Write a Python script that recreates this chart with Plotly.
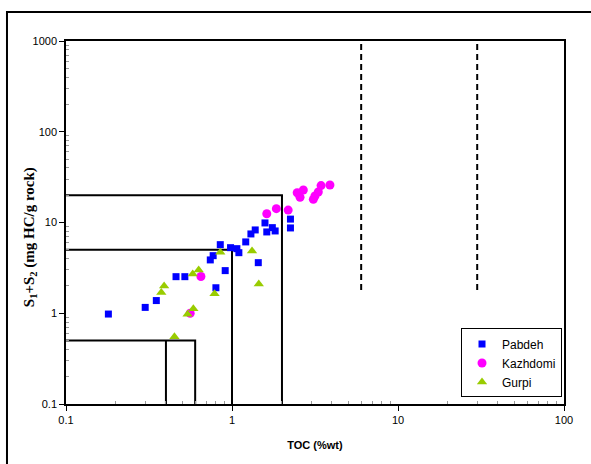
import plotly.graph_objects as go

# Pabdeh
pab_toc = [0.18, 0.30, 0.35, 0.46, 0.52, 0.74, 0.77, 0.80, 0.85, 0.91, 0.98, 1.07,
           1.10, 1.21, 1.30, 1.38, 1.44, 1.58, 1.62, 1.75, 1.82, 2.25, 2.25]
pab_s = [0.98, 1.16, 1.38, 2.53, 2.53, 3.87, 4.31, 1.91, 5.70, 2.95, 5.28, 5.15,
         4.65, 6.11, 7.48, 8.28, 3.61, 9.89, 7.87, 8.78, 8.07, 10.9, 8.71]
# Kazhdomi
kaz_toc = [0.65, 0.56, 1.62, 1.85, 2.18, 2.47, 2.69, 2.57, 3.09, 3.16, 3.31, 3.44, 3.89]
kaz_s = [2.54, 1.0, 12.5, 14.2, 13.7, 21.3, 22.8, 19.0, 18.0, 19.6, 21.7, 25.5, 25.9]
# Gurpi
gur_toc = [0.39, 0.375, 0.58, 0.63, 0.85, 0.785, 0.585, 0.54, 0.45, 1.32, 1.45]
gur_s = [2.0, 1.69, 2.71, 3.0, 4.70, 1.64, 1.12, 0.975, 0.55, 4.86, 2.10]

# Classification box limits (TOC, S1+S2)
box_toc = [2, 1, 0.6]
box_s = [20, 5, 0.5]
poor_inner_toc = 0.4
dash_toc = [6, 30]
dash_s_range = [1.8, 1000]

x_ticks = [0.1, 1, 10, 100]
x_tick_text = ["0.1", "1", "10", "100"]
y_ticks = [0.1, 1, 10, 100, 1000]
y_tick_text = ["0.1", "1", "10", "100", "1000"]

x_minor = [d * m for d in x_ticks[:-1] for m in range(2, 10)]
y_minor = [d * m for d in y_ticks[:-1] for m in range(2, 10)]

fig = go.Figure()

line_style = dict(color="black", width=2)
for t, s in zip(box_toc, box_s):
    fig.add_trace(go.Scatter(x=[0.1, t, t], y=[s, s, 0.1], mode="lines",
                             line=line_style, showlegend=False, hoverinfo="skip"))
fig.add_trace(go.Scatter(x=[poor_inner_toc, poor_inner_toc], y=[0.1, box_s[2]], mode="lines",
                         line=line_style, showlegend=False, hoverinfo="skip"))
for t in dash_toc:
    fig.add_trace(go.Scatter(x=[t, t], y=dash_s_range, mode="lines",
                             line=dict(color="black", width=2, dash="6px,4px"),
                             showlegend=False, hoverinfo="skip"))

fig.add_trace(go.Scatter(x=pab_toc, y=pab_s, mode="markers", name="Pabdeh",
                         marker=dict(symbol="square", size=7, color="#0000FF")))
fig.add_trace(go.Scatter(x=kaz_toc, y=kaz_s, mode="markers", name="Kazhdomi",
                         marker=dict(symbol="circle", size=9, color="#FF00FF")))
fig.add_trace(go.Scatter(x=gur_toc, y=gur_s, mode="markers", name="Gurpi",
                         marker=dict(symbol="triangle-up", size=9, color="#99CC00")))

# outer chart border
fig.add_shape(type="rect", xref="paper", yref="paper",
              x0=-0.1185, x1=1.3, y0=-0.4, y1=1.08,
              line=dict(color="black", width=2), fillcolor="rgba(0,0,0,0)", layer="below")

axis_common = dict(
    type="log", showgrid=False, zeroline=False, showline=True, linecolor="black",
    linewidth=1.5, mirror=True, ticks="outside", ticklen=5, tickcolor="black",
    tickfont=dict(family="Liberation Sans, Arial", size=11, color="black"),
)

fig.update_xaxes(**axis_common, range=[-1, 2], tickvals=x_ticks, ticktext=x_tick_text,
                 minor=dict(tickvals=x_minor, ticks="inside", ticklen=3,
                            tickcolor="#999999", showgrid=False),
                 title=dict(text="<b>TOC (%wt)</b>",
                            font=dict(family="Liberation Sans, Arial", size=11, color="black"),
                            standoff=16))
fig.update_yaxes(**axis_common, range=[-1, 3], tickvals=y_ticks, ticktext=y_tick_text,
                 minor=dict(tickvals=y_minor, ticks="inside", ticklen=3,
                            tickcolor="#999999", showgrid=False))

fig.add_annotation(text="<b>S<sub>1</sub>+S<sub>2</sub> (mg HC/g rock)</b>",
                   xref="paper", yref="paper", x=-0.072, y=0.46,
                   xanchor="center", yanchor="middle", textangle=-90, showarrow=False,
                   font=dict(family="Liberation Serif, Times New Roman", size=15, color="black"))

fig.update_layout(
    width=591, height=464,
    margin=dict(l=66, r=27, t=41, b=60),
    paper_bgcolor="white", plot_bgcolor="white",
    legend=dict(x=0.996, y=0.018, xanchor="right", yanchor="bottom",
                bordercolor="black", borderwidth=1, bgcolor="white",
                font=dict(family="Liberation Sans, Arial", size=12, color="black"),
                itemwidth=30, tracegroupgap=0),
)

fig.write_html("out.html")
